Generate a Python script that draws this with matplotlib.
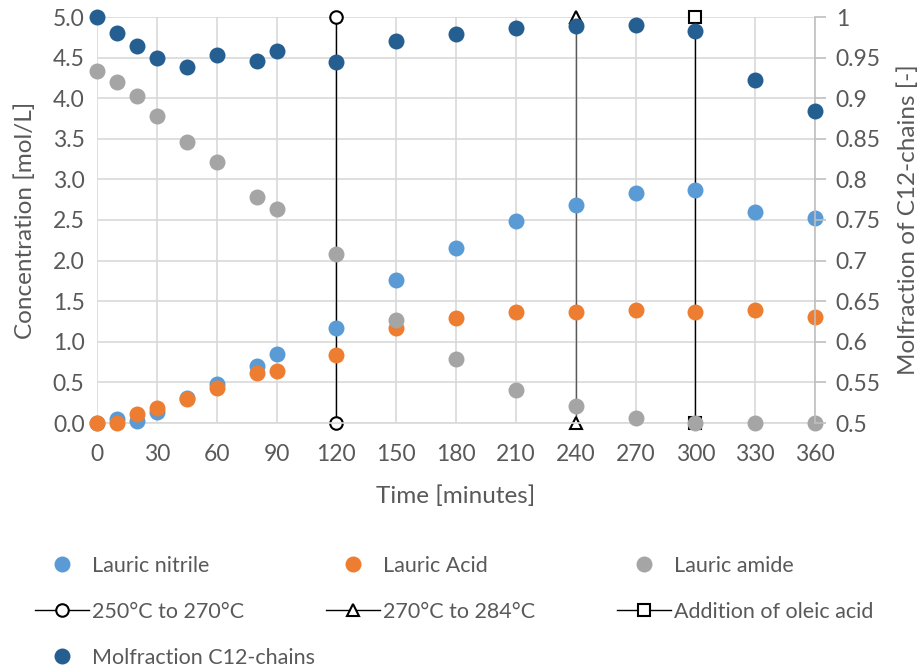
import matplotlib
matplotlib.use("Agg")
import matplotlib.pyplot as plt
from matplotlib.lines import Line2D
from matplotlib.ticker import FixedLocator, FuncFormatter

plt.rcParams['font.family'] = ['Lato', 'DejaVu Sans']

# data
time_min = [0, 10, 20, 30, 45, 60, 80, 90, 120, 150, 180, 210, 240, 270, 300, 330, 360]
lauric_nitrile = [0.0, 0.05, 0.03, 0.14, 0.31, 0.48, 0.70, 0.85, 1.17, 1.76, 2.16, 2.49, 2.68, 2.83, 2.87, 2.60, 2.52]
lauric_acid = [0.0, 0.0, 0.11, 0.19, 0.30, 0.43, 0.61, 0.64, 0.84, 1.17, 1.29, 1.37, 1.37, 1.39, 1.37, 1.39, 1.30]
lauric_amide = [4.33, 4.20, 4.03, 3.78, 3.46, 3.21, 2.78, 2.64, 2.08, 1.27, 0.79, 0.41, 0.21, 0.06, 0.0, 0.0, 0.0]
molfraction_c12 = [1.0, 0.980, 0.964, 0.950, 0.938, 0.953, 0.946, 0.958, 0.945, 0.970, 0.979,
                   0.986, 0.989, 0.990, 0.983, 0.922, 0.884]

# vertical event markers (time, label, marker)
event_times = [120, 240, 300]
event_labels = ['250°C to 270°C', '270°C to 284°C', 'Addition of oleic acid']
event_markers = ['o', '^', 's']
event_colors = ['black', '#595959', 'black']
event_y = [0, 5]

c_nitrile = '#5B9BD5'
c_acid = '#ED7D31'
c_amide = '#A5A5A5'
c_molf = '#255E91'
txt = '#595959'
grid_c = '#D9D9D9'

fig = plt.figure(figsize=(9.19, 6.68), dpi=100)
ax = fig.add_axes([97 / 919, 1 - 423 / 668, (815 - 97) / 919, (423 - 17) / 668])
ax2 = ax.twinx()

ms = 11.5
ax.plot(time_min, lauric_nitrile, 'o', color=c_nitrile, ms=ms, mec='none', clip_on=False, zorder=3)
ax.plot(time_min, lauric_acid, 'o', color=c_acid, ms=ms, mec='none', clip_on=False, zorder=3)
ax.plot(time_min, lauric_amide, 'o', color=c_amide, ms=ms, mec='none', clip_on=False, zorder=3)

event_handles = []
for t, lab, mk, col in zip(event_times, event_labels, event_markers, event_colors):
    ax.plot([t, t], event_y, '-', color=col, lw=1.0, marker=mk, ms=9, mfc='white',
            mec='black', mew=1.5, clip_on=False, zorder=2)
    event_handles.append(Line2D([], [], color='black', lw=1.0, marker=mk, ms=9, mfc='white',
                                mec='black', mew=1.5, label=lab))

ax2.plot(time_min, molfraction_c12, 'o', color=c_molf, ms=ms, mec='none', clip_on=False, zorder=3)

ax.set_xlim(0, 360)
ax.set_ylim(0, 5)
ax2.set_ylim(0.5, 1.0)
ax.set_xticks(range(0, 361, 30))
ax.set_yticks([i * 0.5 for i in range(11)])
ax2.yaxis.set_major_locator(FixedLocator([0.5 + i * 0.05 for i in range(11)]))
ax.yaxis.set_major_formatter(FuncFormatter(lambda v, p: f'{v:.1f}'))
ax2.yaxis.set_major_formatter(FuncFormatter(lambda v, p: f'{v:.2f}'.rstrip('0').rstrip('.')))

ax.grid(True, color=grid_c, lw=1.2)
ax.set_axisbelow(True)
for a in (ax, ax2):
    for s in ('top', 'left', 'right', 'bottom'):
        a.spines[s].set_visible(False)
ax.spines['bottom'].set_visible(True)
ax.spines['bottom'].set_color(grid_c)
ax.spines['bottom'].set_linewidth(1.2)
ax2.spines['right'].set_visible(True)
ax2.spines['right'].set_color('#BFBFBF')
ax2.spines['right'].set_linewidth(1.2)

ax.tick_params(axis='x', length=0, pad=15, labelsize=16.5, labelcolor=txt)
ax.tick_params(axis='y', length=0, pad=9, labelsize=16.5, labelcolor=txt)
ax2.tick_params(axis='y', length=8, width=1.2, color='#BFBFBF', direction='out', pad=7,
                labelsize=16.5, labelcolor=txt)

ax.set_xlabel('Time [minutes]', fontsize=17.5, color=txt, labelpad=15)
ax.set_ylabel('Concentration [mol/L]', fontsize=17.5, color=txt, labelpad=12)
ax2.set_ylabel('Molfraction of C12-chains [-]', fontsize=17.5, color=txt, labelpad=12)

h_nit = Line2D([], [], ls='none', marker='o', color=c_nitrile, ms=ms, mec='none', label='Lauric nitrile')
h_acid = Line2D([], [], ls='none', marker='o', color=c_acid, ms=ms, mec='none', label='Lauric Acid')
h_amide = Line2D([], [], ls='none', marker='o', color=c_amide, ms=ms, mec='none', label='Lauric amide')
h_molf = Line2D([], [], ls='none', marker='o', color=c_molf, ms=ms, mec='none', label='Molfraction C12-chains')

columns = [[h_nit, event_handles[0], h_molf], [h_acid, event_handles[1]], [h_amide, event_handles[2]]]
col_x = [35, 326, 617]
for hs, x in zip(columns, col_x):
    leg = fig.legend(handles=hs, loc='upper left', bbox_to_anchor=(x / 919, 1 - 556 / 668),
                     frameon=False, fontsize=15.5, handlelength=2.5, handletextpad=0.15,
                     labelspacing=1.2, borderpad=0, borderaxespad=0)
    for t in leg.get_texts():
        t.set_color(txt)

fig.savefig('out.png', dpi=100)
